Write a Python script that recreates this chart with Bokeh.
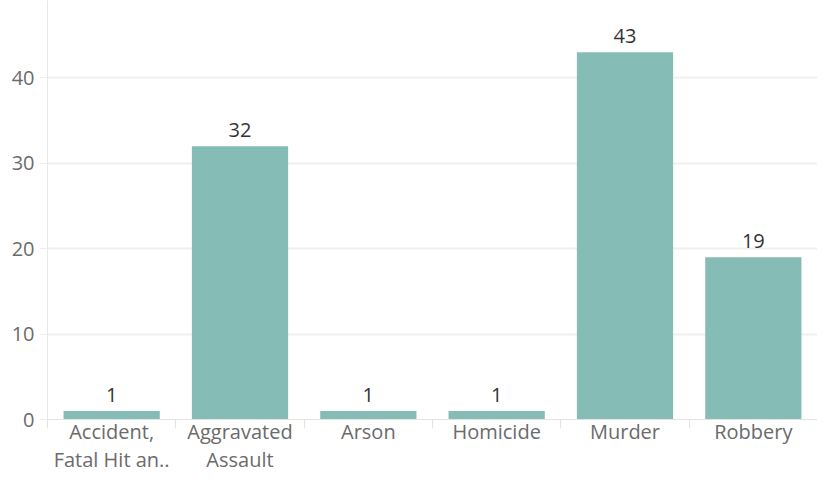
from bokeh.plotting import figure
from bokeh.models import (Range1d, LinearAxis, FixedTicker, ColumnDataSource,
                          LabelSet, CustomLabelingPolicy)
from bokeh.core.properties import value
from bokeh.embed import file_html
from bokeh.resources import INLINE

categories = ["Accident,\nFatal Hit an..", "Aggravated\nAssault", "Arson",
              "Homicide", "Murder", "Robbery"]
values = [1, 32, 1, 1, 43, 19]
y_ticks = [0, 10, 20, 30, 40]

FONT = "Open Sans"
BAR = "#86bcb6"
GRID = "#efefef"
LABEL = "#6b6b6b"

n = len(categories)
centers = [i + 0.5 for i in range(n)]
source = ColumnDataSource(dict(x=centers, val=values,
                               txt=[str(v) for v in values]))

p = figure(width=817, height=475,
           x_range=Range1d(0, n),
           y_range=Range1d(0, 49.07),
           output_backend="svg", toolbar_location=None,
           x_axis_location=None,
           min_border_left=47, min_border_right=0,
           min_border_top=0, min_border_bottom=56)

p.vbar(x="x", top="val", width=0.75, source=source,
       fill_color=BAR, line_color=None)

labels = LabelSet(x="x", y="val", text="txt", source=source,
                  text_align="center", text_baseline="alphabetic", y_offset=9,
                  text_font=value(FONT), text_font_size=value("20px"),
                  text_color="#333333")
p.add_layout(labels)

# separator ticks axis (category boundaries), no labels
sep_axis = LinearAxis(ticker=FixedTicker(ticks=list(range(n + 1))),
                      major_tick_out=0, major_tick_in=-9,
                      minor_tick_line_color=None,
                      major_tick_line_color="#e3e3e3",
                      axis_line_color="#e3e3e3",
                      major_label_policy=CustomLabelingPolicy(code="return []"),
                      major_label_text_font_size="1px",
                      major_label_standoff=0)
p.add_layout(sep_axis, "below")

cat_axis = LinearAxis(ticker=FixedTicker(ticks=centers),
                      major_label_overrides={c: name for c, name in zip(centers, categories)},
                      major_tick_line_color=None, minor_tick_line_color=None,
                      axis_line_color=None,
                      major_label_standoff=-12,
                      major_label_text_font=FONT,
                      major_label_text_font_size="20px",
                      major_label_text_color=LABEL,
                      major_label_text_line_height=1.05)
p.add_layout(cat_axis, "below")

p.yaxis.ticker = FixedTicker(ticks=y_ticks)
p.yaxis.axis_line_color = "#e8e8e8"
p.yaxis.major_tick_out = 8
p.yaxis.major_tick_in = 0
p.yaxis.major_tick_line_color = GRID
p.yaxis.minor_tick_line_color = None
p.yaxis.major_label_standoff = 5
p.yaxis.major_label_text_font = FONT
p.yaxis.major_label_text_font_size = "20px"
p.yaxis.major_label_text_color = LABEL

p.ygrid.ticker = FixedTicker(ticks=y_ticks)
p.ygrid.grid_line_color = GRID
p.ygrid.grid_line_width = 2
p.xgrid.grid_line_color = None
p.outline_line_color = None

open("out.html", "w").write(file_html(p, INLINE))
